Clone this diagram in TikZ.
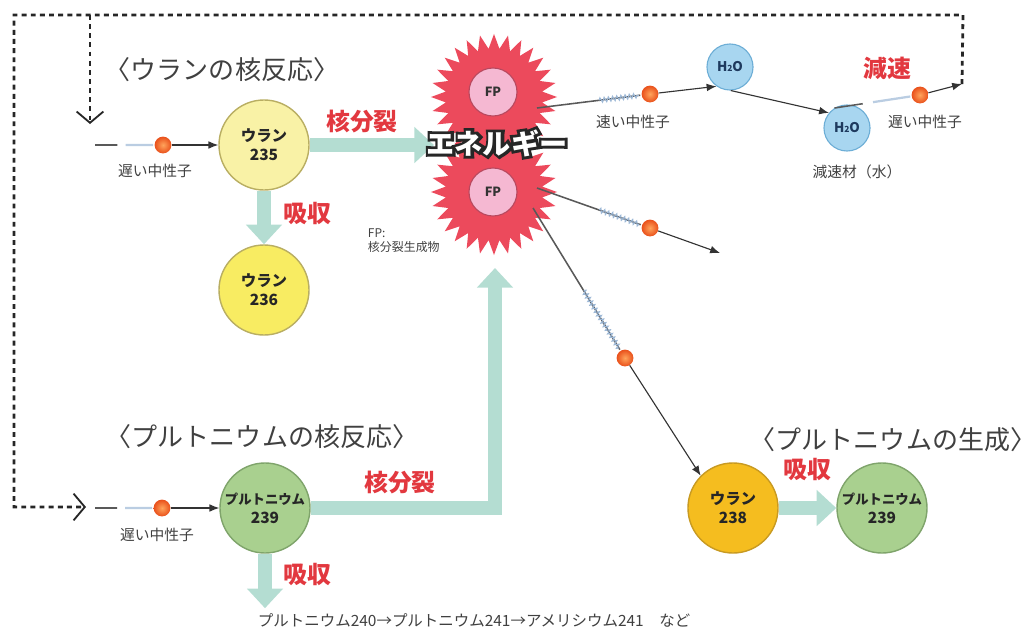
\documentclass[tikz,border=0pt]{standalone}
\usepackage{fontspec}
\setmainfont{Noto Sans CJK JP}
\newfontfamily\outlinefont{Noto Sans CJK JP}[FakeBold=20]
\usetikzlibrary{arrows.meta,calc,shapes.geometric,decorations.pathmorphing}

\definecolor{burstRed}{HTML}{EC4A5C}
\definecolor{fpFill}{HTML}{F5B8D2}
\definecolor{fpEdge}{HTML}{B8485E}
\definecolor{uPale}{HTML}{F9F2A6}
\definecolor{uYellow}{HTML}{F8EC62}
\definecolor{uEdge}{HTML}{B9AE62}
\definecolor{uOrange}{HTML}{F5BD1F}
\definecolor{uOrangeEdge}{HTML}{C89A22}
\definecolor{puFill}{HTML}{A9D08F}
\definecolor{puEdge}{HTML}{7FA46B}
\definecolor{waterFill}{HTML}{A8D6F0}
\definecolor{waterEdge}{HTML}{6DAED6}
\definecolor{waterText}{HTML}{1E3A5E}
\definecolor{flowTeal}{HTML}{B4DDD2}
\definecolor{redText}{HTML}{E2383F}
\definecolor{ballOrange}{HTML}{E9501B}
\definecolor{ballLight}{HTML}{FFA45C}
\definecolor{streak}{HTML}{9DB8D6}

\pgfdeclarelayer{bg}
\pgfsetlayers{bg,main}

\tikzset{
  nucleus/.style={circle,minimum size=2.25cm,inner sep=0pt,line width=1pt,
    align=center,text=black!85,font=\bfseries\fontsize{11}{13.5}\selectfont},
  burst/.style={star,star points=28,star point ratio=1.3,minimum size=3.15cm,
    inner sep=0pt,fill=burstRed},
  fp/.style={circle,minimum size=1.2cm,inner sep=0pt,fill=fpFill,draw=fpEdge,
    line width=0.8pt,text=black!80,font=\bfseries\fontsize{9}{10}\selectfont},
  water/.style={circle,minimum size=1.15cm,inner sep=0pt,fill=waterFill,
    draw=waterEdge,line width=0.8pt,text=waterText,
    font=\bfseries\fontsize{9.5}{10}\selectfont},
  neutron/.style={circle,minimum size=0.42cm,inner sep=0pt,shading=radial,
    inner color=ballLight,outer color=ballOrange},
  flow/.style={line width=10.5pt,flowTeal,-{Triangle[length=14pt,width=25pt]}},
  ray/.style={line width=0.8pt,black!80,-{Latex[length=7pt,width=5.5pt]}},
  trailgray/.style={line width=1.1pt,black!65},
  trailblue/.style={line width=1.6pt,streak!70},
  trailzig/.style={line width=0.8pt,streak,decorate,
    decoration={zigzag,amplitude=1.6pt,segment length=3pt}},
  loopline/.style={line width=2pt,black!85,dash pattern=on 3.5pt off 3pt},
  loophead/.style={-{Straight Barb[length=8pt,width=19pt,line width=1.3pt]}},
  title/.style={text=black!75,font=\fontsize{18.5}{20}\selectfont},
  redlabel/.style={text=redText,font=\bfseries\fontsize{17}{19}\selectfont},
  small/.style={text=black!75,font=\fontsize{10.5}{12}\selectfont},
  energy/.style={font=\bfseries\fontsize{20}{22}\selectfont}
}

% trail behind a neutron: from a start point up to the ball
\newcommand{\slowtrail}[2]{%
  \draw[trailgray] (#1) -- ($(#1)!0.33!(#2)$);
  \draw[trailblue] ($(#1)!0.45!(#2)$) -- ($(#2)!7pt!(#1)$);}
\newcommand{\fasttrail}[2]{%
  \draw[trailgray] (#1) -- ($(#2)!7pt!(#1)$);
  \draw[trailzig] ($(#1)!0.55!(#2)$) -- ($(#2)!8pt!(#1)$);}
% white word with a dark rim
\newcommand{\rimmed}[1]{%
  \rlap{\outlinefont\bfseries\color{black!85}#1}{\color{white}#1}}

\begin{document}
\begin{tikzpicture}[x=0.025cm,y=-0.025cm]
  \useasboundingbox (0,0) rectangle (1034,632);

  % titles
  \node[title] (tU) at (222,70) {〈ウランの核反応〉};
  \node[title] (tPu) at (262,437) {〈プルトニウムの核反応〉};
  \node[title] (tGen) at (893,440) {〈プルトニウムの生成〉};

  % nuclei
  \node[nucleus,fill=uPale,draw=uEdge] (u235) at (264,145) {ウラン\\235};
  \node[nucleus,fill=uYellow,draw=uEdge] (u236) at (264,290) {ウラン\\236};
  \node[nucleus,fill=uOrange,draw=uOrangeEdge] (u238) at (733,508) {ウラン\\238};
  \node[nucleus,fill=puFill,draw=puEdge] (pu239) at (265,508)
    {{\fontsize{9.5}{11}\selectfont プルトニウム}\\239};
  \node[nucleus,fill=puFill,draw=puEdge] (pu239b) at (882,508)
    {{\fontsize{9.5}{11}\selectfont プルトニウム}\\239};

  \node[small,anchor=west] (chain) at (253,620)
    {\fontsize{11}{12}\selectfont プルトニウム240→プルトニウム241→アメリシウム241　など};

  % fission bursts
  \node[burst] (burstA) at (494,97) {};
  \node[burst] (burstB) at (494,192) {};
  \coordinate (burstL) at (434,145);
  \coordinate (burstS) at (495,268);

  % broad reaction arrows
  \begin{pgfonlayer}{bg}
    \draw[flow] (u235) -- (burstL);
    \draw[flow] (u235) -- (u236.north);
    \draw[flow] (pu239) -| (burstS);
    \draw[flow] (pu239) -- (pu239.south |- chain.north);
    \draw[flow] (u238) -- (pu239b.west);
  \end{pgfonlayer}
  \node[redlabel] (fisU) at (362,122) {核分裂};
  \node[redlabel] (absU) at (307,214) {吸収};
  \node[redlabel] (fisPu) at (400,483) {核分裂};
  \node[redlabel] (absPu) at (307,575) {吸収};
  \node[redlabel] (absGen) at (807,470) {吸収};
  \node[redlabel] (slowDown) at (887,68) {減速};

  % water moderator
  \node[water] (h2oA) at (730,67) {H{\fontsize{6}{6}\selectfont 2}O};
  \node[water] (h2oB) at (847,128) {H{\fontsize{6}{6}\selectfont 2}O};
  \node[small] (modLbl) at (857,172) {減速材（水）};

  % neutrons
  \coordinate (srcU) at (95,145);
  \coordinate (srcPu) at (95,508);
  \coordinate (srcA) at (537,108);
  \coordinate (srcB) at (537,188);
  \coordinate (srcC) at (533,208);
  \coordinate (outB) at (720,253);
  \coordinate (slowEnd) at (962,84);

  \node[neutron] (nU) at (163,145) {};
  \node[neutron] (nPu) at (162,508) {};
  \node[neutron] (nA) at (650,94) {};
  \node[neutron] (nB) at (650,228) {};
  \node[neutron] (nC) at (625,358) {};
  \node[neutron] (nS) at (920,95) {};

  \slowtrail{srcU}{nU}
  \slowtrail{srcPu}{nPu}
  \fasttrail{srcA}{nA}
  \fasttrail{srcB}{nB}
  \fasttrail{srcC}{nC}
  \slowtrail{h2oB.122}{nS}

  \draw[ray] (nU) -- (u235);
  \draw[ray] (nPu) -- (pu239);
  \draw[ray] (nA) -- (h2oA.235);
  \draw[ray] (h2oA.272) -- (h2oB.140);
  \draw[ray] (nS) -- (slowEnd);
  \draw[ray] (nB) -- (outB);
  \draw[ray] (nC) -- (u238.135);

  \node[small] (lblU) at (155,171) {遅い中性子};
  \node[small] (lblPu) at (157,535) {遅い中性子};
  \node[small] (lblFast) at (633,122) {速い中性子};
  \node[small] (lblSlow) at (925,122) {遅い中性子};

  % fission products on top of the bursts
  \node[fp] (fpA) at (493,92) {FP};
  \node[fp] (fpB) at (493,192) {FP};
  \node[small,anchor=north west,align=left,font=\fontsize{8.5}{10}\selectfont]
    (fpNote) at (363,224) {FP:\\核分裂生成物};

  \node[energy] (energy) at (497,143) {\rimmed{エネルギー}};

  % slowed neutrons are fed back
  \coordinate (loopR) at (963,15);
  \coordinate (loopL) at (14,15);
  \coordinate (loopB) at (14,507);
  \coordinate (backU) at (90,15);
  \coordinate (inU) at (90,124);
  \coordinate (inPu) at (86,507);
  \draw[loopline,loophead] (slowEnd) -- (loopR) -- (loopL) -- (loopB) -- (inPu);
  \draw[loopline,loophead] (backU) -- (inU);
\end{tikzpicture}
\end{document}
